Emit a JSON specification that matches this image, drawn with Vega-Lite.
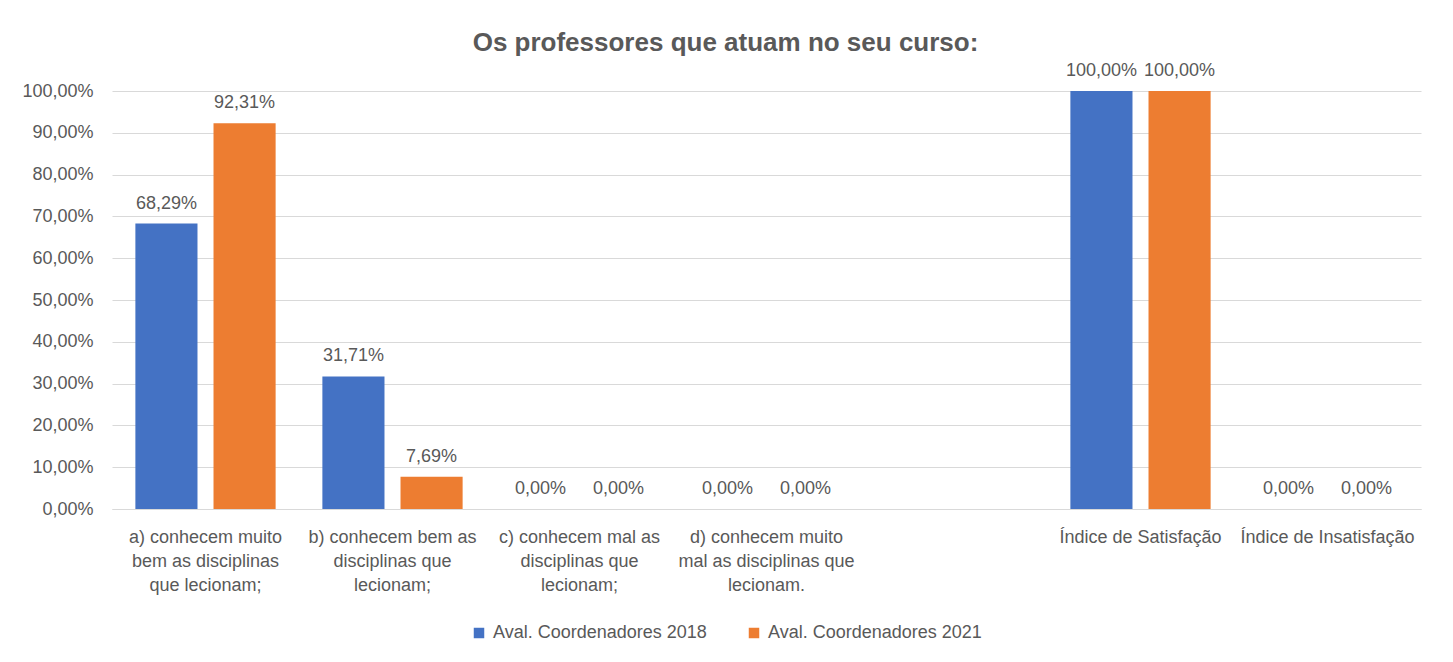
{
  "$schema": "https://vega.github.io/schema/vega-lite/v6.json",
  "width": 1309,
  "height": 418,
  "autosize": {"type": "none"},
  "padding": {"left": 112, "top": 91, "right": 32, "bottom": 153},
  "background": "white",
  "config": {
    "locale": {"number": {"decimal": ",", "thousands": ".", "grouping": [3], "currency": ["R$", ""]}},
    "view": {"stroke": null},
    "font": "Liberation Sans"
  },
  "title": {
    "text": "Os professores que atuam no seu curso:",
    "fontSize": 26,
    "fontWeight": "bold",
    "color": "#595959",
    "anchor": "middle",
    "dx": -41,
    "offset": 6
  },
  "data": {
    "values": [
      {"categoria": "a) conhecem muito\nbem as disciplinas\nque lecionam;", "serie": "Aval. Coordenadores 2018", "valor": 0.6829},
      {"categoria": "a) conhecem muito\nbem as disciplinas\nque lecionam;", "serie": "Aval. Coordenadores 2021", "valor": 0.9231},
      {"categoria": "b) conhecem bem as\ndisciplinas que\nlecionam;", "serie": "Aval. Coordenadores 2018", "valor": 0.3171},
      {"categoria": "b) conhecem bem as\ndisciplinas que\nlecionam;", "serie": "Aval. Coordenadores 2021", "valor": 0.0769},
      {"categoria": "c) conhecem mal as\ndisciplinas que\nlecionam;", "serie": "Aval. Coordenadores 2018", "valor": 0},
      {"categoria": "c) conhecem mal as\ndisciplinas que\nlecionam;", "serie": "Aval. Coordenadores 2021", "valor": 0},
      {"categoria": "d) conhecem muito\nmal as disciplinas que\nlecionam.", "serie": "Aval. Coordenadores 2018", "valor": 0},
      {"categoria": "d) conhecem muito\nmal as disciplinas que\nlecionam.", "serie": "Aval. Coordenadores 2021", "valor": 0},
      {"categoria": "Índice de Satisfação", "serie": "Aval. Coordenadores 2018", "valor": 1},
      {"categoria": "Índice de Satisfação", "serie": "Aval. Coordenadores 2021", "valor": 1},
      {"categoria": "Índice de Insatisfação", "serie": "Aval. Coordenadores 2018", "valor": 0},
      {"categoria": "Índice de Insatisfação", "serie": "Aval. Coordenadores 2021", "valor": 0}
    ]
  },
  "encoding": {
    "x": {
      "field": "categoria",
      "type": "nominal",
      "sort": null,
      "scale": {
        "domain": [
          "a) conhecem muito\nbem as disciplinas\nque lecionam;",
          "b) conhecem bem as\ndisciplinas que\nlecionam;",
          "c) conhecem mal as\ndisciplinas que\nlecionam;",
          "d) conhecem muito\nmal as disciplinas que\nlecionam.",
          " ",
          "Índice de Satisfação",
          "Índice de Insatisfação"
        ],
        "paddingInner": 0.25,
        "paddingOuter": 0.125
      },
      "axis": {
        "title": null,
        "labelAngle": 0,
        "labelExpr": "split(datum.label, '\\n')",
        "labelFontSize": 18,
        "labelColor": "#595959",
        "labelLineHeight": 24,
        "labelBaseline": "top",
        "labelPadding": 19,
        "labelLimit": 400,
        "ticks": false,
        "domainColor": "#d9d9d9",
        "domainWidth": 1,
        "grid": false
      }
    },
    "xOffset": {
      "field": "serie",
      "type": "nominal",
      "scale": {"paddingInner": 0.205, "paddingOuter": 0}
    },
    "y": {
      "field": "valor",
      "type": "quantitative",
      "scale": {"domain": [0, 1], "nice": false},
      "axis": {
        "title": null,
        "values": [0, 0.1, 0.2, 0.3, 0.4, 0.5, 0.6, 0.7, 0.8, 0.9, 1],
        "format": ".2%",
        "labelFontSize": 18,
        "labelColor": "#595959",
        "labelPadding": 19,
        "ticks": false,
        "domain": false,
        "gridColor": "#d9d9d9",
        "gridWidth": 1
      }
    }
  },
  "layer": [
    {
      "mark": {"type": "bar"},
      "encoding": {
        "color": {
          "field": "serie",
          "type": "nominal",
          "scale": {"domain": ["Aval. Coordenadores 2018", "Aval. Coordenadores 2021"], "range": ["#4472C4", "#ED7D31"]},
          "legend": {
            "title": null,
            "orient": "none",
            "legendX": 358,
            "legendY": 533,
            "direction": "horizontal",
            "symbolType": "square",
            "symbolSize": 110,
            "symbolStrokeWidth": 0,
            "labelFontSize": 18,
            "labelColor": "#595959",
            "labelOffset": 5,
            "labelLimit": 400,
            "columnPadding": 38
          }
        }
      }
    },
    {
      "mark": {"type": "text", "baseline": "alphabetic", "dy": -15, "fontSize": 18, "color": "#595959"},
      "encoding": {
        "text": {"field": "valor", "type": "quantitative", "format": ".2%"}
      }
    }
  ]
}
